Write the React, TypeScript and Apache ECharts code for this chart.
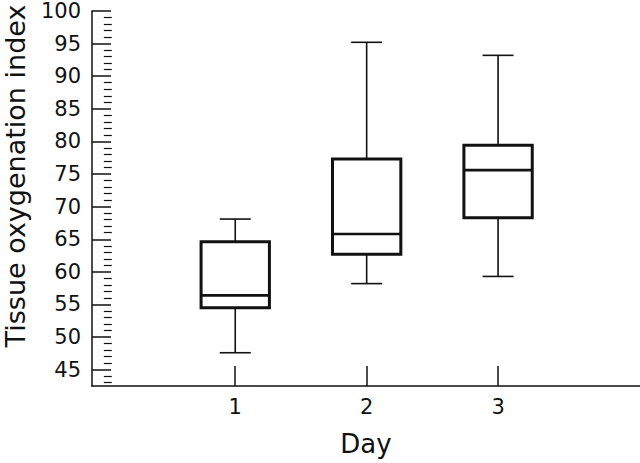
import React, { useEffect, useRef } from "react";
import * as echarts from "echarts";

const days = [1, 2, 3];
const mins = [47.6, 58.2, 59.3];
const q1s = [54.5, 62.7, 68.3];
const medians = [56.4, 65.8, 75.6];
const q3s = [64.6, 77.3, 79.4];
const maxs = [68.1, 95.2, 93.2];

const majorTicks = [45, 50, 55, 60, 65, 70, 75, 80, 85, 90, 95, 100];
const minorTicks: number[] = [];
for (let v = 43; v < 100; v++) if (v % 5 !== 0) minorTicks.push(v);

const FONT = "DejaVu Sans";
const INK = "#111";

export default function App() {
  const ref = useRef<HTMLDivElement>(null);
  useEffect(() => {
    if (!ref.current) return;
    const chart = echarts.init(ref.current, undefined, { renderer: "svg" });
    const data = days.map((d, i) => [d, mins[i], q1s[i], medians[i], q3s[i], maxs[i]]);
    chart.setOption({
      animation: false,
      backgroundColor: "#fff",
      grid: { left: 92, right: 0, top: 11, bottom: 77, containLabel: false, outerBoundsMode: "none" },
      xAxis: {
        type: "value",
        min: -0.09,
        max: 4.08,
        name: "Day",
        nameLocation: "middle",
        nameGap: 44,
        nameTextStyle: { fontFamily: FONT, fontSize: 26, color: INK, lineHeight: 28 },
        axisLine: { show: true, onZero: false, lineStyle: { color: INK, width: 1.5 } },
        axisTick: { show: true, inside: true, length: 20, customValues: days, lineStyle: { color: INK, width: 1.5 } },
        axisLabel: { customValues: days, margin: 10, fontFamily: FONT, fontSize: 21, color: INK },
        splitLine: { show: false },
      },
      yAxis: [
        {
          type: "value",
          min: 42.5,
          max: 100,
          axisLine: { show: true, onZero: false, lineStyle: { color: INK, width: 1.5 } },
          axisTick: { show: true, inside: true, length: 19, customValues: majorTicks, lineStyle: { color: INK, width: 1.5 } },
          axisLabel: { customValues: majorTicks, margin: 11, fontFamily: FONT, fontSize: 21, color: INK },
          splitLine: { show: false },
        },
        {
          type: "value",
          min: 42.5,
          max: 100,
          position: "left",
          axisLine: { show: false },
          axisTick: { show: true, inside: true, length: 8, customValues: minorTicks, lineStyle: { color: INK, width: 1.2 } },
          axisLabel: { show: false },
          splitLine: { show: false },
        },
      ],
      graphic: [
        {
          type: "text",
          x: 15,
          y: 176,
          rotation: Math.PI / 2,
          style: {
            text: "Tissue oxygenation index",
            font: `27px "${FONT}"`,
            fill: INK,
            textAlign: "center",
            textVerticalAlign: "middle",
          },
        },
      ],
      series: [
        {
          type: "custom",
          yAxisIndex: 0,
          data,
          renderItem: (params: any, api: any) => {
            const x = api.value(0);
            const vMin = api.value(1);
            const vQ1 = api.value(2);
            const vMed = api.value(3);
            const vQ3 = api.value(4);
            const vMax = api.value(5);
            const pMin = api.coord([x, vMin]);
            const pQ1 = api.coord([x, vQ1]);
            const pMed = api.coord([x, vMed]);
            const pQ3 = api.coord([x, vQ3]);
            const pMax = api.coord([x, vMax]);
            const halfW = api.size([0.26, 0])[0];
            const capHalf = api.size([0.118, 0])[0];
            const cx = pMed[0];
            const boxStyle = { stroke: INK, lineWidth: 3, fill: "none" };
            const whiskStyle = { stroke: INK, lineWidth: 1.6 };
            return {
              type: "group",
              children: [
                { type: "line", shape: { x1: cx, y1: pQ3[1], x2: cx, y2: pMax[1] }, style: whiskStyle },
                { type: "line", shape: { x1: cx - capHalf, y1: pMax[1], x2: cx + capHalf, y2: pMax[1] }, style: whiskStyle },
                { type: "line", shape: { x1: cx, y1: pQ1[1], x2: cx, y2: pMin[1] }, style: whiskStyle },
                { type: "line", shape: { x1: cx - capHalf, y1: pMin[1], x2: cx + capHalf, y2: pMin[1] }, style: whiskStyle },
                {
                  type: "rect",
                  shape: { x: cx - halfW, y: pQ3[1], width: halfW * 2, height: pQ1[1] - pQ3[1] },
                  style: boxStyle,
                },
                { type: "line", shape: { x1: cx - halfW, y1: pMed[1], x2: cx + halfW, y2: pMed[1] }, style: { stroke: INK, lineWidth: 2.6 } },
              ],
            };
          },
        },
      ],
    });
    return () => chart.dispose();
  }, []);
  return <div ref={ref} style={{ position: "fixed", left: 0, top: 0, width: 640, height: 463 }} />;
}
